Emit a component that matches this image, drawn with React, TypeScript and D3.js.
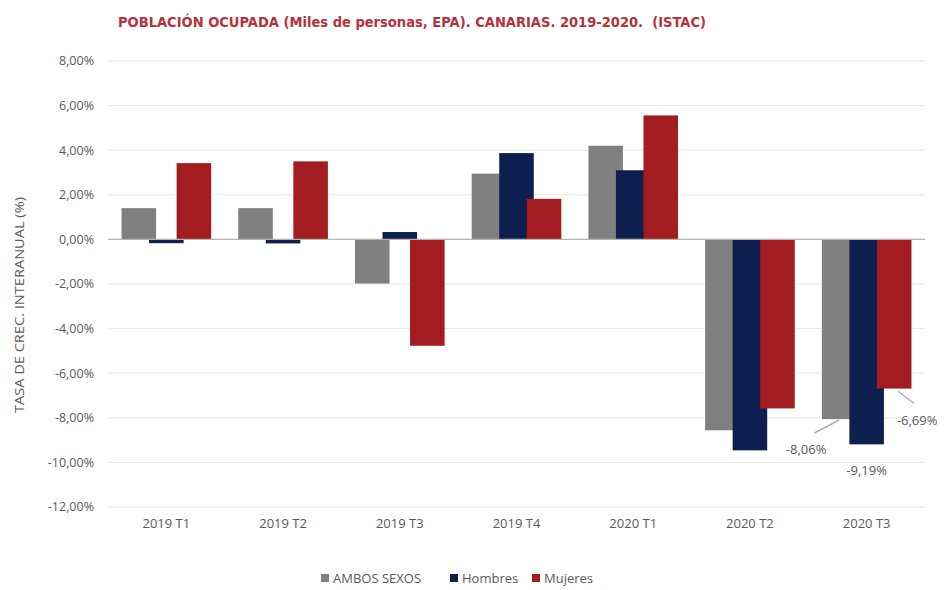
import React from 'react';
import * as d3 from 'd3';

const categories = ['2019 T1', '2019 T2', '2019 T3', '2019 T4', '2020 T1', '2020 T2', '2020 T3'];
const seriesNames = ['AMBOS SEXOS', 'Hombres', 'Mujeres'];
const ambosSexos = [1.4, 1.4, -1.98, 2.95, 4.2, -8.56, -8.06];
const hombres = [-0.17, -0.18, 0.33, 3.87, 3.1, -9.46, -9.19];
const mujeres = [3.42, 3.5, -4.77, 1.82, 5.56, -7.58, -6.69];
const yTicks = [8, 6, 4, 2, 0, -2, -4, -6, -8, -10, -12];
const labelledCategory = '2020 T3';

const colors = ['#808080', '#0c1f4f', '#a31c20'];
const W = 944;
const H = 590;
const plot = { left: 108, right: 925, top: 61, bottom: 507 };

const fmt = (v: number) => v.toFixed(2).replace('.', ',') + '%';

export default function App() {
  const series = [ambosSexos, hombres, mujeres];
  const x = d3.scaleBand<string>().domain(categories).range([plot.left, plot.right]).padding(0);
  const y = d3.scaleLinear().domain([-12, 8]).range([plot.bottom, plot.top]);
  const bw = x.bandwidth();
  const barW = bw * 0.296;
  const step = bw * 0.236;
  const offset = d3.scalePoint<string>().domain(seriesNames).range([-step, step]);

  const font = '"Open Sans", Lato, sans-serif';
  const textColor = '#595959';

  // label offsets per series (relative to bar end), purely stylistic placement
  const labelStyle = [
    { line: [0, 1, -25, 14], text: [-33, 35] },
    { line: null, text: [0, 31] },
    { line: [4, 3, 20, 15], text: [23, 36] },
  ];

  const legendX = [321, 450, 532];

  return (
    <svg width={W} height={H} style={{ position: 'absolute', left: 0, top: 0, background: '#fff' }}>
      <text
        x={118}
        y={27}
        fill="#b5313d"
        fontFamily='"DejaVu Sans", sans-serif'
        fontWeight="bold"
        fontSize={14}
        textLength={588}
        lengthAdjust="spacingAndGlyphs"
        style={{ whiteSpace: 'pre' }}
      >
        {'POBLACIÓN OCUPADA (Miles de personas, EPA). CANARIAS. 2019-2020.  (ISTAC)'}
      </text>

      {yTicks.map((t) => (
        <g key={t}>
          {t !== 0 && (
            <line x1={plot.left} x2={plot.right} y1={y(t)} y2={y(t)} stroke="#e6e6e6" strokeWidth={1} />
          )}
          <text x={94} y={y(t)} dy="0.35em" textAnchor="end" fill={textColor} fontFamily={font} fontSize={12.5}>
            {fmt(t)}
          </text>
        </g>
      ))}

      <text
        transform={`translate(19,${305}) rotate(-90)`}
        textAnchor="middle"
        dy="0.35em"
        fill={textColor}
        fontFamily={font}
        fontSize={13}
        textLength={216}
        lengthAdjust="spacingAndGlyphs"
      >
        TASA DE CREC. INTERANUAL (%)
      </text>

      {series.map((vals, si) => (
        <g key={si}>
          {categories.map((c, ci) => {
            const v = vals[ci];
            const cx = (x(c) as number) + bw / 2 + (offset(seriesNames[si]) as number);
            const y0 = y(0);
            const y1 = y(v);
            return (
              <rect
                key={c}
                x={cx - barW / 2}
                y={Math.min(y0, y1)}
                width={barW}
                height={Math.abs(y1 - y0)}
                fill={colors[si]}
              />
            );
          })}
        </g>
      ))}

      <line x1={plot.left} x2={plot.right} y1={y(0)} y2={y(0)} stroke="#b4b4b4" strokeWidth={1.2} />

      {series.map((vals, si) => {
        const ci = categories.indexOf(labelledCategory);
        const v = vals[ci];
        const cx = (x(labelledCategory) as number) + bw / 2 + (offset(seriesNames[si]) as number);
        const ye = y(v);
        const st = labelStyle[si];
        return (
          <g key={'lab' + si}>
            {st.line && (
              <line
                x1={cx + st.line[0]}
                y1={ye + st.line[1]}
                x2={cx + st.line[2]}
                y2={ye + st.line[3]}
                stroke="#a6a6a6"
                strokeWidth={1.2}
              />
            )}
            <text
              x={cx + st.text[0]}
              y={ye + st.text[1]}
              textAnchor="middle"
              fill={textColor}
              fontFamily={font}
              fontSize={13}
            >
              {fmt(v)}
            </text>
          </g>
        );
      })}

      {categories.map((c) => (
        <text
          key={c}
          x={(x(c) as number) + bw / 2}
          y={528}
          textAnchor="middle"
          fill={textColor}
          fontFamily={font}
          fontSize={13}
        >
          {c}
        </text>
      ))}

      {seriesNames.map((s, si) => (
        <g key={s} transform={`translate(${legendX[si]},578)`}>
          <rect x={0} y={-4} width={8} height={8} fill={colors[si]} />
          <text x={12} y={0} dy="0.35em" fill={textColor} fontFamily={font} fontSize={13}>
            {s}
          </text>
        </g>
      ))}
    </svg>
  );
}
